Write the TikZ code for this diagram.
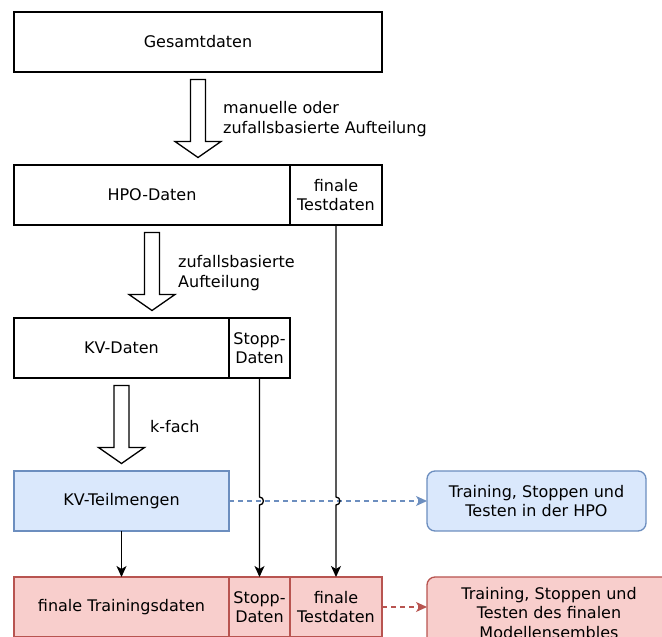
\documentclass[tikz,border=0pt]{standalone}
\usepackage{fontspec}
\setmainfont{DejaVu Sans}
\usetikzlibrary{arrows.meta,calc}
\definecolor{hpofill}{HTML}{DAE8FC}
\definecolor{hpoline}{HTML}{6C8EBF}
\definecolor{finfill}{HTML}{F8CECC}
\definecolor{finline}{HTML}{B85450}
\begin{document}
\begin{tikzpicture}[x=1pt,y=1pt,
    cell/.style={draw, line width=1.3pt, anchor=north west, minimum height=60pt,
      inner sep=2pt, outer sep=0pt, align=center, font=\fontsize{16}{19.5}\selectfont},
    hpocell/.style={cell, draw=hpoline, fill=hpofill},
    fincell/.style={cell, draw=finline, fill=finfill},
    txt/.style={anchor=west, align=left, inner sep=0pt, font=\fontsize{16}{19.5}\selectfont},
    link/.style={line width=1.3pt, -{Stealth[length=11pt,width=10pt,inset=3pt]}},
    bigarrow/.pic={\draw[line width=1.3pt, fill=white] (-7.5,0) -- (7.5,0) -- (7.5,-62)
      -- (23,-62) -- (0,-78) -- (-23,-62) -- (-7.5,-62) -- cycle;}]
    \useasboundingbox (0,0) rectangle (662,637);
    % data blocks, top to bottom
    \node[cell, minimum width=368pt] (ges) at (14,625) {Gesamtdaten};
    \node[cell, minimum width=276pt] (hpo) at (14,472) {HPO-Daten};
    \node[cell, minimum width=92pt] (hpotest) at (290,472) {finale\\Testdaten};
    \node[cell, minimum width=215pt] (kv) at (14,319) {KV-Daten};
    \node[cell, minimum width=61pt] (kvstopp) at (229,319) {Stopp-\\Daten};
    \node[hpocell, minimum width=215pt] (teil) at (14,166) {KV-Teilmengen};
    \node[fincell, minimum width=215pt] (fintrain) at (14,60) {finale Trainingsdaten};
    \node[fincell, minimum width=61pt] (finstopp) at (229,60) {Stopp-\\Daten};
    \node[fincell, minimum width=92pt] (fintest) at (290,60) {finale\\Testdaten};
    % where the data is used
    \node[hpocell, rounded corners=8pt, minimum width=219pt] (hpouse) at (427,166)
      {Training, Stoppen und\\Testen in der HPO};
    \node[fincell, rounded corners=8pt, minimum width=244pt, minimum height=72pt] (finuse)
      at (427,60) {Training, Stoppen und\\Testen des finalen\\Modellensembles};
    % splitting steps
    \pic at ([yshift=-7.5pt]ges.south) {bigarrow};
    \pic at ([yshift=-7.5pt]hpo.south) {bigarrow};
    \pic at ([yshift=-7.5pt]kv.south) {bigarrow};
    \node[txt] (split1) at (223,518) {manuelle oder\\zufallsbasierte Aufteilung};
    \node[txt] (split2) at (178,364) {zufallsbasierte\\Aufteilung};
    \node[txt] (split3) at (150,210) {k-fach};
    % links into the final split, jumping over the HPO link
    \coordinate (cross1) at (kvstopp.south |- teil.east);
    \coordinate (cross2) at (hpotest.south |- teil.east);
    \draw[link, hpoline, dash pattern=on 5pt off 4pt] (teil.east) -- (hpouse.west);
    \draw[link] (teil.south) -- (fintrain.north);
    \draw[link] (kvstopp.south) -- ($(cross1)+(0,4)$) arc[start angle=90, end angle=-90, radius=4pt]
      -- (finstopp.north);
    \draw[link] (hpotest.south) -- ($(cross2)+(0,4)$) arc[start angle=90, end angle=-90, radius=4pt]
      -- (fintest.north);
    \draw[link, finline, dash pattern=on 5pt off 4pt] (fintest.east) -- (fintest.east -| finuse.west);
\end{tikzpicture}
\end{document}
